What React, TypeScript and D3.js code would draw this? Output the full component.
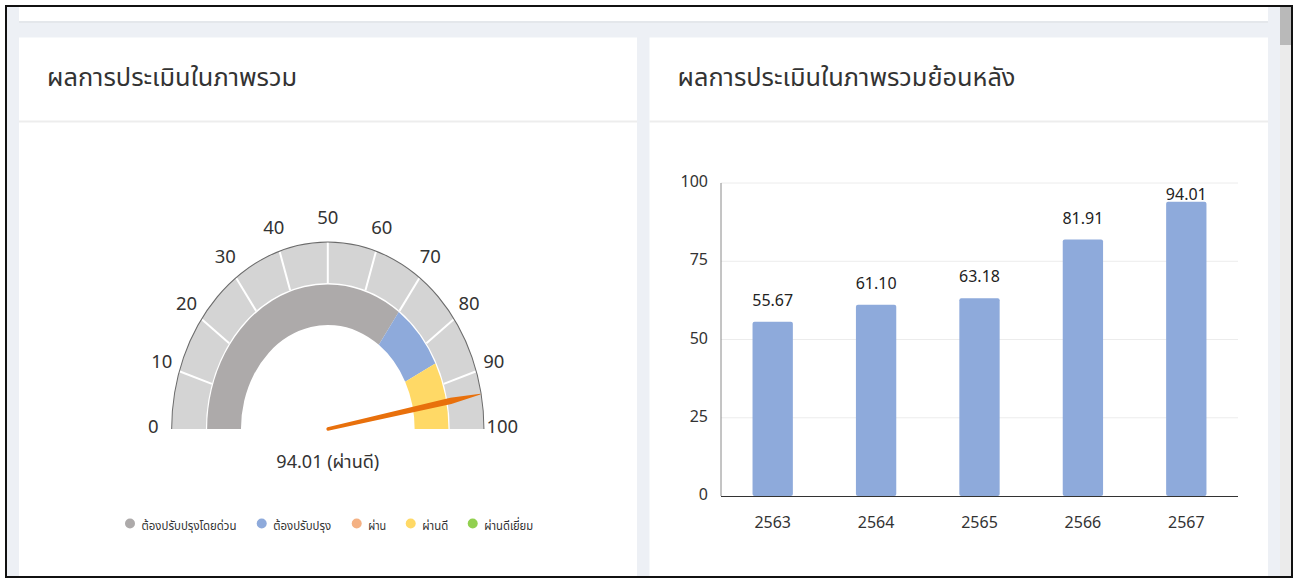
import { useMemo } from "react";
import * as d3 from "d3";

// gauge data
const gaugeValue = 94.01;
const gaugeStatus = "ผ่านดี";
const gaugeTicks = [0, 10, 20, 30, 40, 50, 60, 70, 80, 90, 100];
const bandLabels = ["ต้องปรับปรุงโดยด่วน", "ต้องปรับปรุง", "ผ่าน", "ผ่านดี", "ผ่านดีเยี่ยม"];
const bandColors = ["#adaaaa", "#8eaadb", "#f4b183", "#ffd966", "#92d050"];
const bandFrom = [0, 70, 85, 85, 100];
const bandTo = [70, 85, 85, 100, 100];

// bar data
const years = ["2563", "2564", "2565", "2566", "2567"];
const scores = [55.67, 61.1, 63.18, 81.91, 94.01];
const yTicks = [0, 25, 50, 75, 100];

const FONT = "'Noto Sans', 'Noto Sans Thai', sans-serif";

// legend text widths as seen in the picture (font is narrow)
const legendX = [130, 261.7, 356.7, 410.7, 472.7];
const legendW = [95, 58, 18, 26, 49];

function Gauge() {
  const cx = 327.8;
  const cy = 429;
  const sx = 0.835;
  const outerR = 187;
  const bandR0 = 146;
  const innerR0 = 104;
  const innerR1 = 144.5;
  const labelR = 209;

  const ang = d3.scaleLinear().domain([0, 100]).range([-Math.PI / 2, Math.PI / 2]);

  const outerArc = d3.arc<any>().innerRadius(bandR0).outerRadius(outerR);
  const rimArc = d3.arc<any>().innerRadius(outerR - 0.6).outerRadius(outerR + 0.6);
  const bandArc = d3.arc<any>().innerRadius(innerR0).outerRadius(innerR1);

  const needleRot = 180 + (180 * gaugeValue) / 100;
  const needlePath =
    "M0,-1.7 L150,-3.2 L" + (outerR - 1) + ",-0.4 L" + (outerR - 1) + ",0.4 L150,3.2 L0,1.7 A1.7,1.7 0 0,1 0,-1.7 Z";

  return (
    <g>
      <g transform={`translate(${cx},${cy}) scale(${sx},1)`}>
        <path
          d={outerArc({ startAngle: ang(0), endAngle: ang(100) }) ?? ""}
          fill="#d4d4d4"
        />
        {gaugeTicks.slice(1, -1).map((t) => {
          const a = ang(t);
          return (
            <line
              key={t}
              x1={Math.sin(a) * bandR0}
              y1={-Math.cos(a) * bandR0}
              x2={Math.sin(a) * outerR}
              y2={-Math.cos(a) * outerR}
              stroke="#fff"
              strokeWidth={2}
              vectorEffect="non-scaling-stroke"
            />
          );
        })}
        <path d={rimArc({ startAngle: ang(0), endAngle: ang(100) }) ?? ""} fill="#6b6b6b" />
        {bandLabels.map((l, i) =>
          bandTo[i] > bandFrom[i] ? (
            <path
              key={l}
              d={bandArc({ startAngle: ang(bandFrom[i]), endAngle: ang(bandTo[i]) }) ?? ""}
              fill={bandColors[i]}
            />
          ) : null
        )}
        <path d={needlePath} fill="#e8700c" transform={`rotate(${needleRot})`} />
      </g>
      {gaugeTicks.map((t) => {
        const a = ang(t);
        return (
          <text
            key={t}
            x={cx + Math.sin(a) * labelR * sx}
            y={cy - 4 - Math.cos(a) * labelR}
            textAnchor="middle"
            dominantBaseline="central"
            fontSize={18.5}
            fill="#333"
          >
            {t}
          </text>
        );
      })}
      <text
        x={cx}
        y={468}
        textAnchor="middle"
        fontSize={18}
        fill="#333"
        textLength={103}
        lengthAdjust="spacingAndGlyphs"
      >
        {`${gaugeValue.toFixed(2)} (${gaugeStatus})`}
      </text>
      {bandLabels.map((l, i) => (
        <g key={l}>
          <circle cx={legendX[i]} cy={523.5} r={5} fill={bandColors[i]} />
          <text
            x={legendX[i] + 11.5}
            y={530}
            fontSize={13}
            fill="#333"
            textLength={legendW[i]}
            lengthAdjust="spacingAndGlyphs"
          >
            {l}
          </text>
        </g>
      ))}
    </g>
  );
}

function Bars() {
  const left = 721;
  const right = 1238;
  const top = 183;
  const bottom = 496;
  const x = d3.scaleBand<string>().domain(years).range([left, right]).padding(0);
  const y = d3.scaleLinear().domain([0, 100]).range([bottom, top]);
  const bw = x.bandwidth() * 0.39;

  return (
    <g fontSize={16}>
      {yTicks.slice(1).map((t) => (
        <line key={t} x1={left} x2={right} y1={y(t)} y2={y(t)} stroke="#ececec" strokeWidth={1} />
      ))}
      {yTicks.map((t) => (
        <text key={t} x={708} y={y(t) - 2} textAnchor="end" dominantBaseline="central" fill="#333">
          {t}
        </text>
      ))}
      {years.map((yr, i) => {
        const cxb = (x(yr) ?? 0) + x.bandwidth() / 2;
        const v = scores[i];
        const ly = Math.max(y(v) - 16, y(100) + 17);
        return (
          <g key={yr}>
            <rect x={cxb - bw / 2} y={y(v)} width={bw} height={y(0) - y(v)} rx={2} fill="#8eaadb" />
            <text x={cxb} y={ly} textAnchor="middle" fill="#222">
              {v.toFixed(2)}
            </text>
            <text x={cxb} y={528} textAnchor="middle" fill="#333">
              {yr}
            </text>
          </g>
        );
      })}
      <line x1={left} x2={left} y1={top} y2={bottom} stroke="#8a8a8a" strokeWidth={1} />
      <line x1={left} x2={right} y1={bottom + 0.5} y2={bottom + 0.5} stroke="#333" strokeWidth={1} />
    </g>
  );
}

export default function App() {
  const W = 1297;
  const H = 578;
  const cards = useMemo(
    () => [
      { x: 19, w: 618, title: "ผลการประเมินในภาพรวม", tw: 250 },
      { x: 649.5, w: 618.5, title: "ผลการประเมินในภาพรวมย้อนหลัง", tw: 338 },
    ],
    []
  );

  return (
    <svg
      width={W}
      height={H}
      style={{ position: "absolute", left: 0, top: 0, display: "block" }}
      fontFamily={FONT}
    >
      <rect x={0} y={0} width={W} height={H} fill="#fff" />
      <rect x={7} y={7} width={1284} height={570} fill="#edf0f5" />
      {/* previous card bottom */}
      <rect x={19} y={7} width={1249} height={16} fill="#e4e7eb" />
      <rect x={19} y={7} width={1249} height={14} fill="#fff" />
      {/* scrollbar */}
      <rect x={1280} y={7} width={11} height={570} fill="#ebebeb" />
      <rect x={1280} y={7} width={11} height={38} fill="#b9b9b9" />
      {cards.map((c) => (
        <g key={c.title}>
          <rect x={c.x} y={37.5} width={c.w} height={H - 37.5} fill="#fff" />
          <rect x={c.x} y={120.5} width={c.w} height={2} fill="#ededed" />
          <text
            x={c.x + 28}
            y={86}
            fontSize={24}
            fill="#333"
            textLength={c.tw}
            lengthAdjust="spacingAndGlyphs"
          >
            {c.title}
          </text>
        </g>
      ))}
      <Gauge />
      <Bars />
      <rect x={6} y={6} width={1286} height={571} fill="none" stroke="#111" strokeWidth={2} />
    </svg>
  );
}
